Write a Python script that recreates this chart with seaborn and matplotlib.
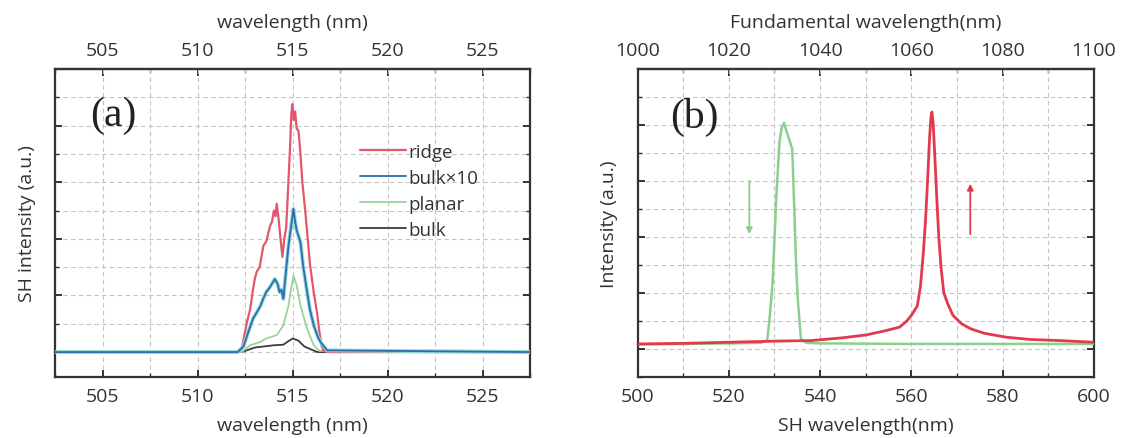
import matplotlib
matplotlib.use("Agg")
import matplotlib.pyplot as plt
import seaborn as sns
from matplotlib.ticker import MultipleLocator

# ---------------- data: panel (a) ----------------
ridge_x = [502.5, 512.0, 512.3, 512.45, 512.6, 512.75, 512.9, 513.0, 513.1, 513.25, 513.45, 513.6,
           513.8, 513.9, 514.0, 514.08, 514.15, 514.25, 514.35, 514.45, 514.55, 514.65, 514.75,
           514.85, 514.92, 514.97, 515.05, 515.12, 515.2, 515.3, 515.4, 515.5, 515.65, 515.9,
           516.1, 516.27, 516.4, 516.5, 516.6, 516.8, 527.5]
ridge_y = [0, 0, 0.05, 0.3, 0.55, 0.75, 1.1, 1.3, 1.42, 1.5, 1.88, 1.95, 2.23, 2.3, 2.5, 2.4,
           2.62, 2.35, 2.0, 1.68, 2.0, 2.2, 2.9, 3.6, 4.2, 4.38, 4.1, 4.25, 3.95, 3.9, 3.5,
           3.0, 2.5, 1.55, 1.05, 0.7, 0.35, 0.12, 0.03, 0, 0]

bulk10_x = [502.5, 512.1, 512.4, 512.6, 512.9, 513.1, 513.3, 513.45, 513.6, 513.8, 514.05,
            514.2, 514.3, 514.4, 514.5, 514.6, 514.77, 514.9, 515.03, 515.12, 515.2, 515.4,
            515.55, 515.75, 515.9, 516.1, 516.3, 516.45, 516.8, 527.5]
bulk10_y = [0, 0, 0.1, 0.3, 0.59, 0.7, 0.82, 0.95, 1.06, 1.15, 1.29, 1.2, 1.06, 1.1, 0.94,
            1.3, 1.88, 2.2, 2.53, 2.3, 2.15, 1.94, 1.5, 1.06, 0.75, 0.47, 0.28, 0.18, 0.03, 0]

planar_x = [502.5, 512.3, 512.75, 513.3, 513.6, 514.15, 514.5, 514.77, 514.9, 515.03, 515.2,
            515.4, 515.75, 516.1, 516.4, 527.5]
planar_y = [0, 0, 0.12, 0.18, 0.24, 0.3, 0.47, 0.82, 1.1, 1.35, 1.18, 0.82, 0.41, 0.12, 0.02, 0]

bulk_x = [502.5, 512.3, 513.0, 513.5, 514.0, 514.5, 514.8, 515.0, 515.3, 515.6, 516.0, 516.3, 527.5]
bulk_y = [0, 0, 0.08, 0.1, 0.12, 0.13, 0.2, 0.24, 0.2, 0.1, 0.04, 0, 0]

a_xticks = [505, 510, 515, 520, 525]

# ---------------- data: panel (b) ----------------
red_x = [500, 510, 520, 530, 538, 545, 550, 554, 557.4, 559, 560, 561.3, 562, 562.6, 563.1,
         563.6, 564.0, 564.3, 564.5, 564.75, 565.1, 565.5, 566.0, 566.5, 567.1, 568.0, 569.1,
         571, 573, 576, 580.8, 586, 592.6, 600]
red_y = [0.09, 0.1, 0.12, 0.14, 0.15, 0.2, 0.25, 0.32, 0.39, 0.5, 0.6, 0.77, 1.13, 1.7, 2.3,
         3.1, 3.8, 4.15, 4.23, 4.05, 3.5, 2.8, 2.0, 1.45, 1.0, 0.8, 0.6, 0.45, 0.36, 0.28, 0.21,
         0.17, 0.15, 0.12]

green_x = [500, 510, 520, 527, 528.4, 529.0, 529.6, 530.4, 531.1, 531.6, 532.1, 532.6, 533.2,
           533.9, 534.3, 534.7, 535.1, 535.8, 537, 540, 560, 580, 600]
green_y = [0.08, 0.09, 0.1, 0.11, 0.15, 0.6, 1.2, 2.7, 3.7, 3.95, 4.04, 3.9, 3.75, 3.57, 2.6,
           1.6, 0.9, 0.18, 0.11, 0.1, 0.09, 0.09, 0.09]

b_xticks = [500, 520, 540, 560, 580, 600]
b_top_ticks = [1000, 1020, 1040, 1060, 1080, 1100]
b_top_offset = 500   # top scale reads bottom + 500

green_arrow = (524.5, 3.05, 2.0)   # x, y_from, y_to
red_arrow = (572.9, 2.0, 3.0)

# ---------------- style ----------------
sns.set_theme(style="white")
plt.rcParams["font.family"] = ["Open Sans", "DejaVu Sans"]

C_RIDGE = "#e4566c"
C_BLUE = "#2d6cb3"
C_CYAN = "#93dad4"
C_GREEN = "#9ad39a"
C_GRAY = "#3c3c3c"
C_RED = "#e03a4c"
C_GREENB = "#8ccf8c"
SPINE = "#333333"
GRID = "#c4c4c4"
TFS = 14
LFS = 14

fig = plt.figure(figsize=(11.21, 4.39), dpi=100)
ax1 = fig.add_axes([0.0494, 0.139, 0.4237, 0.7016])
ax2 = fig.add_axes([0.5687, 0.139, 0.4072, 0.7016])


def style_axes(ax):
    for s in ax.spines.values():
        s.set_color(SPINE)
        s.set_linewidth(1.6)
    ax.tick_params(which="both", direction="in", top=False, right=True, left=True,
                   bottom=True, colors=SPINE, labelleft=False, labelsize=TFS,
                   labelcolor="#333333", pad=7)
    ax.tick_params(which="major", length=5, width=1.4)
    ax.tick_params(which="minor", length=3, width=1.0)
    ax.grid(True, which="both", color=GRID, linestyle=(0, (4, 3)), linewidth=0.8)
    ax.set_axisbelow(True)


def style_secondary(sec):
    sec.tick_params(which="both", direction="in", colors=SPINE, labelsize=TFS,
                    labelcolor="#333333", pad=7)
    sec.tick_params(which="major", length=5, width=1.4)
    sec.tick_params(which="minor", length=3, width=1.0)
    sec.spines["top"].set_linewidth(1.6)
    sec.spines["top"].set_color(SPINE)


# ---- panel (a) ----
sns.lineplot(x=bulk_x, y=bulk_y, ax=ax1, color=C_GRAY, lw=1.3, label="bulk", zorder=3)
sns.lineplot(x=planar_x, y=planar_y, ax=ax1, color=C_GREEN, lw=1.3, label="planar", zorder=4)
sns.lineplot(x=ridge_x, y=ridge_y, ax=ax1, color=C_RIDGE, lw=1.6, label="ridge", zorder=5)
sns.lineplot(x=bulk10_x, y=bulk10_y, ax=ax1, color=C_CYAN, lw=2.8, zorder=6)
sns.lineplot(x=bulk10_x, y=bulk10_y, ax=ax1, color=C_BLUE, lw=1.3, label="bulk×10", zorder=7)

ax1.set_xlim(502.5, 527.5)
ax1.set_ylim(-0.44, 5.0)
ax1.set_xticks(a_xticks)
ax1.xaxis.set_minor_locator(MultipleLocator(2.5))
ax1.yaxis.set_major_locator(MultipleLocator(1))
ax1.yaxis.set_minor_locator(MultipleLocator(0.5))
style_axes(ax1)
ax1.set_xlabel("wavelength (nm)", fontsize=LFS, color="#333333", labelpad=8)
ax1.set_ylabel("SH intensity (a.u.)", fontsize=LFS, color="#333333", labelpad=14)
sec1 = ax1.secondary_xaxis("top")
sec1.set_xticks(a_xticks)
sec1.xaxis.set_minor_locator(MultipleLocator(2.5))
style_secondary(sec1)
sec1.set_xlabel("wavelength (nm)", fontsize=LFS, color="#333333", labelpad=10)

h, l = ax1.get_legend_handles_labels()
order = [l.index(n) for n in ["ridge", "bulk×10", "planar", "bulk"]]
ax1.legend([h[i] for i in order], [l[i] for i in order], loc="upper left",
           bbox_to_anchor=(0.642, 0.76), frameon=False, handlelength=2.45,
           handletextpad=0.1, labelspacing=0.42, borderpad=0, borderaxespad=0,
           fontsize=13.5, labelcolor="#333333")
ax1.text(505.55, 4.2, "(a)", fontsize=30, family="Liberation Serif", ha="center",
         va="center", color="#222222", zorder=8)

# ---- panel (b) ----
sns.lineplot(x=green_x, y=green_y, ax=ax2, color=C_GREENB, lw=1.8, zorder=4)
sns.lineplot(x=red_x, y=red_y, ax=ax2, color=C_RED, lw=2.0, zorder=5)
ax2.set_xlim(500, 600)
ax2.set_ylim(-0.5, 5.0)
ax2.set_xticks(b_xticks)
ax2.xaxis.set_minor_locator(MultipleLocator(10))
ax2.yaxis.set_major_locator(MultipleLocator(1))
ax2.yaxis.set_minor_locator(MultipleLocator(0.5))
style_axes(ax2)
ax2.set_xlabel("SH wavelength(nm)", fontsize=LFS, color="#333333", labelpad=8)
ax2.set_ylabel("Intensity (a.u.)", fontsize=LFS, color="#333333", labelpad=14)
sec2 = ax2.secondary_xaxis("top", functions=(lambda x: x + b_top_offset,
                                              lambda x: x - b_top_offset))
sec2.set_xticks(b_top_ticks)
sec2.xaxis.set_minor_locator(MultipleLocator(10))
style_secondary(sec2)
sec2.set_xlabel("Fundamental wavelength(nm)", fontsize=LFS, color="#333333", labelpad=10)

ax2.annotate("", xy=(green_arrow[0], green_arrow[2]), xytext=(green_arrow[0], green_arrow[1]),
             arrowprops=dict(arrowstyle="-|>", color=C_GREENB, lw=1.3, mutation_scale=9))
ax2.annotate("", xy=(red_arrow[0], red_arrow[2]), xytext=(red_arrow[0], red_arrow[1]),
             arrowprops=dict(arrowstyle="-|>", color=C_RED, lw=1.3, mutation_scale=9))
ax2.text(512.4, 4.16, "(b)", fontsize=30, family="Liberation Serif", ha="center",
         va="center", color="#222222", zorder=8)

fig.savefig("out.png", dpi=100)
